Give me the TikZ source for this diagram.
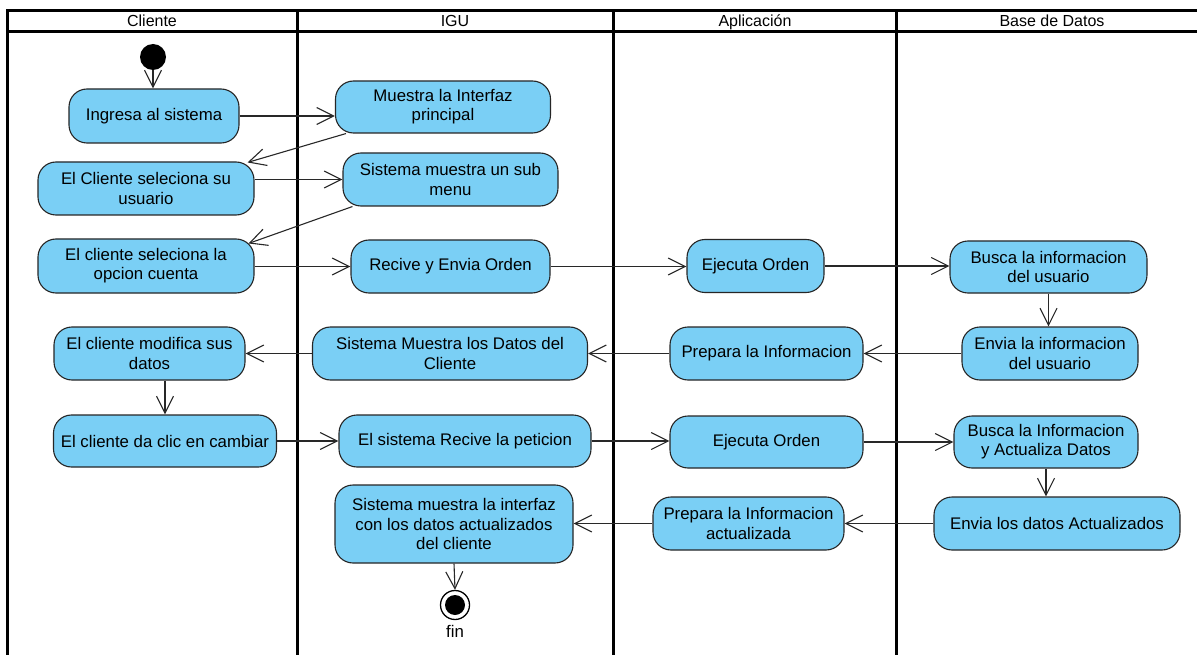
\documentclass[tikz,border=0pt]{standalone}
\usepackage{fontspec}
\setmainfont{Liberation Sans}
\usetikzlibrary{arrows.meta,calc}
\definecolor{actfill}{RGB}{122,207,245}
\definecolor{lineclr}{RGB}{40,40,40}
\begin{document}
\begin{tikzpicture}[x=1pt,y=-1pt,
  act/.style={draw=black!85, line width=1.1pt, fill=actfill, rounded corners=18pt, align=center, inner sep=0pt, minimum height=53pt, font=\fontsize{16.8}{19.3}\selectfont},
  flow/.style={draw=lineclr, line width=1.1pt, -{Straight Barb[length=17pt,width=17pt]}},
  lane/.style={line width=3pt, draw=black},
  hdr/.style={font=\fontsize{16}{18}\selectfont, inner sep=0pt, anchor=base},
  lbl/.style={font=\fontsize{16.8}{19.3}\selectfont, inner sep=0pt}]
\useasboundingbox (0,0) rectangle (1197,655);
\fill[white] (0,0) rectangle (1197,655);
% swimlanes
\draw[lane] (7,655) -- (7,11) -- (1197,11);
\draw[lane] (7,31.5) -- (1197,31.5);
\draw[lane] (297,11) -- (297,655);
\draw[lane] (613,11) -- (613,655);
\draw[lane] (896,11) -- (896,655);
\node[hdr] (hcli) at (152,26.5) {Cliente};
\node[hdr] (higu) at (455,26.5) {IGU};
\node[hdr] (happ) at (755,26.5) {Aplicación};
\node[hdr] (hbd) at (1052,26.5) {Base de Datos};
% actions
\node[act, minimum width=170, minimum height=54] (ingresa) at (154,116) {Ingresa al sistema};
\node[act, minimum width=215, minimum height=52] (muestra) at (443,107) {Muestra la Interfaz\\principal};
\node[act, minimum width=216] (selusr) at (146,188.5) {El Cliente seleciona su\\usuario};
\node[act, minimum width=215] (submenu) at (450.5,179.5) {Sistema muestra un sub\\menu};
\node[act, minimum width=216, minimum height=54] (opcion) at (146,266) {El cliente seleciona la\\opcion cuenta};
\node[act, minimum width=199] (recive) at (450.5,266.5) {Recive y Envia Orden};
\node[act, minimum width=137] (ejec1) at (755.5,266) {Ejecuta Orden};
\node[act, minimum width=197, minimum height=52] (busca1) at (1048.5,267) {Busca la informacion\\del usuario};
\node[act, minimum width=176] (envia1) at (1050,353.5) {Envia la informacion\\del usuario};
\node[act, minimum width=193] (prep1) at (766.5,353.5) {Prepara la Informacion};
\node[act, minimum width=275] (mdatos) at (450,353.5) {Sistema Muestra los Datos del\\Cliente};
\node[act, minimum width=191] (modif) at (149.5,353.5) {El cliente modifica sus\\datos};
\node[act, minimum width=223, minimum height=52] (clic) at (165,441) {El cliente da clic en cambiar};
\node[act, minimum width=252, minimum height=52] (petic) at (465,441) {El sistema Recive la peticion};
\node[act, minimum width=193, minimum height=52] (ejec2) at (766.5,442) {Ejecuta Orden};
\node[act, minimum width=184, minimum height=52] (busca2) at (1046,442) {Busca la Informacion\\y Actualiza Datos};
\node[act, minimum width=246] (envia2) at (1057,523.5) {Envia los datos Actualizados};
\node[act, minimum width=191] (prep2) at (748.5,523.5) {Prepara la Informacion\\actualizada};
\node[act, minimum width=238, minimum height=78] (interfaz) at (454,524) {Sistema muestra la interfaz\\con los datos actualizados\\del cliente};
% initial and final
\node[circle, fill=black, minimum size=26pt, inner sep=0pt] (start) at (153,57) {};
\node[circle, draw=black, line width=1.3pt, minimum size=29pt, inner sep=0pt] (fin) at (455,605) {};
\fill[black] (fin.center) circle (10);
\node[lbl] (finlbl) at (455,631) {fin};
% flows
\draw[flow] (start.south) -- (start.south |- ingresa.north);
\draw[flow] (ingresa.east) -- (ingresa.east -| muestra.west);
\draw[flow] ($(muestra.south west)+(11,0)$) -- ($(selusr.north east)+(-7,1)$);
\draw[flow] (selusr.east |- submenu.west) -- (submenu.west);
\draw[flow] ($(submenu.south west)+(10,0)$) -- ($(opcion.north east)+(-6,5)$);
\draw[flow] (opcion.east |- recive.west) -- (recive.west);
\draw[flow] (recive.east) -- (recive.east -| ejec1.west);
\draw[flow] (ejec1.east) -- (ejec1.east -| busca1.west);
\draw[flow] (busca1.south) -- (busca1.south |- envia1.north);
\draw[flow] (envia1.west) -- (envia1.west -| prep1.east);
\draw[flow] (prep1.west) -- (prep1.west -| mdatos.east);
\draw[flow] (mdatos.west) -- (mdatos.west -| modif.east);
\draw[flow] (clic.north |- modif.south) -- (clic.north);
\draw[flow] (clic.east) -- (clic.east -| petic.west);
\draw[flow] (petic.east) -- (petic.east -| ejec2.west);
\draw[flow] (ejec2.east) -- (ejec2.east -| busca2.west);
\draw[flow] (busca2.south) -- (busca2.south |- envia2.north);
\draw[flow] (envia2.west) -- (envia2.west -| prep2.east);
\draw[flow] (prep2.west) -- (prep2.west -| interfaz.east);
\draw[flow] (interfaz.south) -- (fin.north);
\end{tikzpicture}
\end{document}
